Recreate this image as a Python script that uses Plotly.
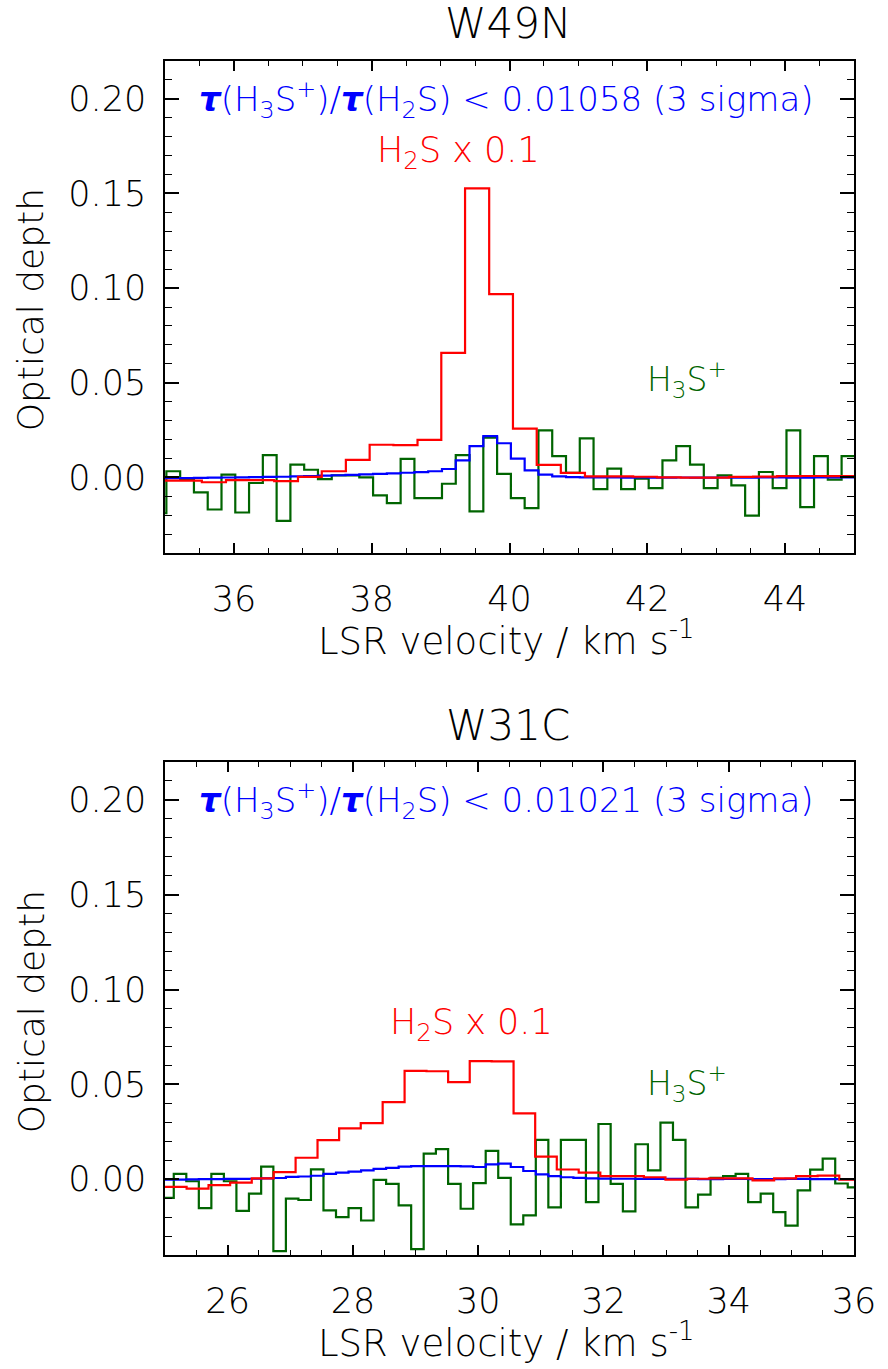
import plotly.graph_objects as go

# ---------------- W49N (top panel) ----------------
w49n_v_h3s = [34.92, 35.12, 35.32, 35.52, 35.72, 35.92, 36.12, 36.32, 36.52, 36.72, 36.92,
              37.12, 37.32, 37.52, 37.72, 37.92, 38.12, 38.32, 38.52, 38.72, 38.92,
              39.12, 39.32, 39.52, 39.72, 39.92, 40.12, 40.32, 40.52, 40.72, 40.92,
              41.12, 41.32, 41.52, 41.72, 41.92, 42.12, 42.32, 42.52, 42.72, 42.92,
              43.12, 43.32, 43.52, 43.72, 43.92, 44.12, 44.32, 44.52, 44.72, 44.92, 45.12]
w49n_tau_h3s = [-0.019, 0.0032, -0.001, -0.008, -0.017, 0.0014, -0.0186, -0.003, 0.0117, -0.023, 0.0067,
                0.004, -0.001, 0.001, 0.001, 0.0, -0.0096, -0.0136, 0.0097, -0.011, -0.011,
                -0.0034, 0.0117, -0.018, 0.021, 0.0018, -0.011, -0.0163, 0.0248, 0.0112, 0.0023,
                0.0206, -0.0062, 0.0046, -0.0062, -0.0007, -0.0057, 0.009, 0.0165, 0.0067, -0.0057,
                0.001, -0.0043, -0.0202, 0.0028, -0.0057, 0.0248, -0.0158, 0.0112, -0.0012, 0.0112, 0.0112]
w49n_tau_model = [-0.0005, -0.0005, -0.0004, -0.0003, -0.0002, -0.0001, 0.0, 0.0001, 0.0002, 0.0003, 0.0005,
                  0.0007, 0.0009, 0.0011, 0.0013, 0.0015, 0.0018, 0.0021, 0.0024, 0.0027, 0.0032,
                  0.0044, 0.0089, 0.0165, 0.0218, 0.018, 0.0099, 0.0037, 0.0014, 0.0005, 0.0001,
                  0.0, -0.0001, -0.0001, -0.0002, -0.0001, -0.0002, -0.0002, -0.0001, -0.0002, -0.0002,
                  -0.0001, -0.0002, -0.0002, -0.0001, -0.0001, -0.0002, -0.0002, -0.0001, -0.0001, -0.0001, -0.0001]
w49n_v_h2s = [34.67, 35.01, 35.36, 35.71, 36.06, 36.41, 36.76, 37.10, 37.45, 37.80, 38.14,
              38.49, 38.84, 39.18, 39.53, 39.88, 40.22, 40.57, 40.92, 41.27, 41.62,
              41.97, 42.31, 42.66, 43.01, 43.36, 43.71, 44.06, 44.41, 44.76, 45.10]
w49n_tau_h2s = [-0.0018, -0.0018, -0.0018, -0.0026, -0.0015, -0.0015, -0.002, 0.0002, 0.0032, 0.0092, 0.0172,
                0.017, 0.0198, 0.0658, 0.1527, 0.0968, 0.0257, 0.0066, 0.0023, 0.0005, 0.0005,
                0.0003, 0.0, -0.0002, -0.0002, 0.0002, 0.0004, 0.0006, 0.0007, 0.0006, 0.0006]

# ---------------- W31C (bottom panel) ----------------
w31c_v_h3s = [24.84, 25.04, 25.24, 25.44, 25.64, 25.84, 26.04, 26.24, 26.44, 26.63, 26.83,
              27.03, 27.23, 27.43, 27.63, 27.83, 28.03, 28.23, 28.43, 28.63, 28.83,
              29.03, 29.23, 29.42, 29.62, 29.82, 30.02, 30.22, 30.42, 30.62, 30.82,
              31.02, 31.22, 31.42, 31.62, 31.82, 32.02, 32.21, 32.41, 32.61, 32.81,
              33.01, 33.21, 33.41, 33.61, 33.81, 34.01, 34.21, 34.41, 34.61, 34.81,
              35.00, 35.20, 35.40, 35.60, 35.80, 36.00]
w31c_tau_h3s = [-0.0099, -0.0099, 0.0028, -0.0011, -0.0153, 0.0028, -0.0011, -0.0167, -0.0076, 0.0066, -0.038,
                -0.0103, -0.011, 0.0052, -0.0165, -0.020, -0.0153, -0.0218, -0.0004, -0.0025, -0.0138,
                -0.0369, 0.0135, 0.0158, -0.0025, -0.0156, -0.0021, 0.0149, 0.0007, -0.0238, -0.0191,
                0.0207, -0.0149, 0.0207, 0.0207, -0.0121, 0.0291, -0.0025, -0.017, 0.0184, 0.0046,
                0.0298, 0.0207, -0.0149, -0.0082, 0.0007, 0.0016, 0.0028, -0.0121, -0.0076, -0.0174,
                -0.0245, -0.0059, 0.005, 0.0108, -0.0023, -0.0043]
w31c_tau_model = [-0.0002, -0.0002, -0.0002, -0.0001, 0.0, 0.0, 0.0001, 0.0001, 0.0002, 0.0004, 0.0006,
                  0.0012, 0.0014, 0.0018, 0.0028, 0.0034, 0.0040, 0.0046, 0.0054, 0.0060, 0.0066,
                  0.0069, 0.0069, 0.0069, 0.0069, 0.0067, 0.0064, 0.0078, 0.0082, 0.0064, 0.0043,
                  0.0025, 0.0016, 0.001, 0.0007, 0.0004, 0.0003, 0.0002, 0.0002, 0.0001, 0.0001,
                  0.0001, 0.0001, 0.0001, 0.0, 0.0, 0.0001, 0.0001, 0.0, 0.0, 0.0,
                  0.0001, 0.0001, 0.0, 0.0, 0.0, 0.0]
w31c_v_h2s = [24.82, 25.17, 25.52, 25.87, 26.21, 26.56, 26.91, 27.26, 27.61, 27.95, 28.30,
              28.65, 29.00, 29.35, 29.69, 30.04, 30.39, 30.74, 31.08, 31.43, 31.78,
              32.12, 32.47, 32.82, 33.16, 33.51, 33.86, 34.21, 34.55, 34.90, 35.25,
              35.59, 35.94, 36.29]
w31c_tau_h2s = [-0.0041, -0.0041, -0.005, -0.0032, -0.0018, 0.0004, 0.0037, 0.0113, 0.0206, 0.0268, 0.0296,
                0.0406, 0.0571, 0.0569, 0.0512, 0.0622, 0.0621, 0.0347, 0.0119, 0.0051, 0.0034,
                0.0016, 0.0016, 0.001, -0.0002, 0.0002, 0.0004, 0.0004, -0.0006, 0.0004, 0.0016,
                0.0019, -0.0002, -0.0002]

titles = ["W49N", "W31C"]
ratio_texts = ["0.01058", "0.01021"]
x_ranges = [[35, 45], [25, 36]]
y_range = [-0.04, 0.22]
y_ticks = [0.0, 0.05, 0.10, 0.15, 0.20]

GREEN = "#006400"
RED = "#ff0000"
BLUE = "#0000ff"
FONT = "DejaVu Sans"
WEIGHT = 200

fig = go.Figure()

panels = [
    (w49n_v_h3s, w49n_tau_h3s, w49n_tau_model, w49n_v_h2s, w49n_tau_h2s, "x", "y"),
    (w31c_v_h3s, w31c_tau_h3s, w31c_tau_model, w31c_v_h2s, w31c_tau_h2s, "x2", "y2"),
]
for vh3, th3, tmod, vh2, th2, xa, ya in panels:
    fig.add_trace(go.Scatter(x=vh3, y=th3, mode="lines", line=dict(color=GREEN, width=2.2, shape="hvh"),
                             xaxis=xa, yaxis=ya, showlegend=False, hoverinfo="skip"))
    fig.add_trace(go.Scatter(x=vh3, y=tmod, mode="lines", line=dict(color=BLUE, width=2.2, shape="hvh"),
                             xaxis=xa, yaxis=ya, showlegend=False, hoverinfo="skip"))
    fig.add_trace(go.Scatter(x=vh2, y=th2, mode="lines", line=dict(color=RED, width=2.2, shape="hvh"),
                             xaxis=xa, yaxis=ya, showlegend=False, hoverinfo="skip"))

# plot-area geometry (pixels)
L, R, T, B = 165, 861, 61, 1255
W, H = 888, 1369
PW, PH = R - L, B - T

def px(x):
    return (x - L) / PW

def py(y):
    return (B - y) / PH

top_dom = [py(553), 1.0]
bot_dom = [0.0, py(762)]

axis_common = dict(showline=True, linecolor="black", linewidth=1.5, mirror="ticks",
                   ticks="inside", tickcolor="black", showgrid=False, zeroline=False,
                   tickfont=dict(family=FONT, size=35, color="black", weight=WEIGHT))

xcommon = dict(axis_common, dtick=2, ticklen=10, tickwidth=1.5, ticklabelstandoff=14,
               minor=dict(dtick=0.5, ticklen=5, tickwidth=1.2, ticks="inside", tickcolor="black"))
ycommon = dict(axis_common, range=y_range, tickvals=y_ticks, tickformat=".2f", ticklen=14, tickwidth=1.5,
               ticklabelstandoff=10,
               minor=dict(dtick=0.01, tick0=0, ticklen=7, tickwidth=1.2, ticks="inside", tickcolor="black"))

fig.update_layout(
    width=W, height=H,
    margin=dict(l=L, r=W - R, t=T, b=H - B),
    paper_bgcolor="white", plot_bgcolor="white",
    font=dict(family=FONT, color="black", weight=WEIGHT),
    xaxis=dict(xcommon, range=x_ranges[0], tick0=36, anchor="y", domain=[0, 1]),
    yaxis=dict(ycommon, anchor="x", domain=top_dom),
    xaxis2=dict(xcommon, range=x_ranges[1], tick0=26, anchor="y2", domain=[0, 1]),
    yaxis2=dict(ycommon, anchor="x2", domain=bot_dom),
)

ann = []
def add(text, x, y, color="black", size=30):
    ann.append(dict(text=text, x=px(x), y=py(y), xref="paper", yref="paper", showarrow=False,
                    xanchor="center", yanchor="middle",
                    font=dict(family=FONT, size=size, color=color, weight=WEIGHT)))

# panel titles
add(titles[0], 511, 24, size=42)
add(titles[1], 511, 726, size=42)
# y titles
for yc in (310, 1012):
    ann.append(dict(text="Optical depth", x=px(30), y=py(yc), xref="paper", yref="paper", showarrow=False,
                    textangle=-90, xanchor="center", yanchor="middle",
                    font=dict(family=FONT, size=36, color="black", weight=WEIGHT)))
# x titles
xt = "LSR velocity / km s<sup>-1</sup>"
add(xt, 510, 638, size=37)
add(xt, 510, 1340, size=37)
# ratio annotations
for yc, r in zip((100, 801), ratio_texts):
    add("<b><i>τ</i></b>(H<sub>3</sub>S<sup>+</sup>)/<b><i>τ</i></b>(H<sub>2</sub>S) &lt; " + r + " (3 sigma)",
        510, yc, color=BLUE, size=34)
# species labels
add("H<sub>2</sub>S x 0.1", 461, 152, color=RED, size=35)
add("H<sub>3</sub>S<sup>+</sup>", 692, 380, color=GREEN, size=33)
add("H<sub>2</sub>S x 0.1", 475, 1024, color=RED, size=35)
add("H<sub>3</sub>S<sup>+</sup>", 692, 1083, color=GREEN, size=33)

fig.update_layout(annotations=ann)
fig.write_html("out.html")
